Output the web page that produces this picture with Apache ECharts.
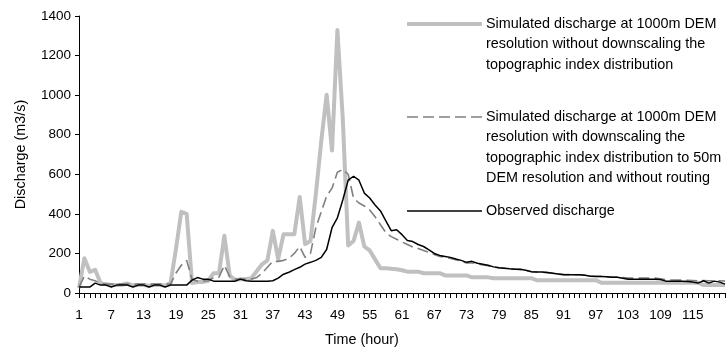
<!DOCTYPE html>
<html>
<head>
<meta charset="utf-8">
<script src="https://cdn.jsdelivr.net/npm/echarts@6/dist/echarts.min.js"></script>
<style>
html,body{margin:0;padding:0;background:#fff;}
#c{width:728px;height:352px;}
</style>
</head>
<body>
<div id="c"></div>
<script>
// Categories: hours 1..121
var hours = [];
for (var h = 1; h <= 121; h++) hours.push(String(h));

var seriesNames = [
  'Simulated discharge at 1000m DEM resolution without downscaling the topographic index distribution',
  'Simulated discharge at 1000m DEM resolution with downscaling the topographic index distribution to 50m DEM resolution and without routing',
  'Observed discharge'
];

// Simulated, 1000m DEM, no downscaling (thick light grey)
var simNoDownscale = [
  25,176,107,117,50,45,40,40,42,48,            // 1-10
  38,40,40,37,40,40,38,50,220,410,             // 11-20
  400,50,55,55,62,100,100,289,88,65,           // 21-30
  70,70,75,110,145,165,314,171,297,297,        // 31-40
  297,485,247,263,500,767,1002,720,1329,880,   // 41-50
  240,263,356,235,215,170,125,125,122,120,     // 51-60
  115,108,108,108,100,100,100,100,89,89,       // 61-70
  89,89,89,79,79,79,79,75,75,75,               // 71-80
  75,75,75,75,75,65,65,65,65,65,               // 81-90
  65,65,65,65,65,65,65,52,52,52,               // 91-100
  52,52,52,52,52,52,52,52,52,52,               // 101-110
  52,52,52,52,52,52,40,40,40,40,               // 111-120
  40                                           // 121
];

// Simulated, downscaled to 50m, no routing (dashed grey)
var simDownscale = [
  30,85,70,62,48,45,45,45,45,45,               // 1-10
  45,45,45,45,45,45,45,45,100,140,             // 11-20
  165,70,60,60,62,78,80,140,82,70,             // 21-30
  70,70,70,78,100,130,160,160,165,175,         // 31-40
  200,235,180,200,330,410,490,530,610,625,     // 41-50
  600,480,455,440,420,385,345,305,285,272,     // 51-60
  258,245,232,225,215,205,195,185,180,175,     // 61-70
  168,160,152,152,148,142,138,132,128,125,     // 71-80
  122,120,118,114,108,106,105,103,100,96,      // 81-90
  94,93,92,92,90,87,85,84,82,80,               // 91-100
  80,78,75,75,75,75,75,75,72,68,               // 101-110
  66,65,65,64,63,62,63,62,62,62,               // 111-120
  60                                           // 121
];

// Observed discharge (black)
var observed = [
  30,30,30,50,40,40,30,40,40,40,               // 1-10
  30,40,40,30,40,40,30,40,40,40,               // 11-20
  40,65,78,70,70,60,60,60,60,60,               // 21-30
  70,62,60,60,60,60,62,75,95,105,              // 31-40
  118,130,146,155,165,180,220,330,380,470,     // 41-50
  570,590,570,505,480,445,415,365,315,320,     // 51-60
  295,265,260,245,235,218,200,190,185,180,     // 61-70
  172,165,155,160,150,145,140,132,128,125,     // 71-80
  122,120,120,115,108,106,106,104,100,96,      // 81-90
  92,92,92,92,90,85,84,84,82,80,               // 91-100
  80,75,70,70,70,70,70,70,68,60,               // 101-110
  60,60,60,58,55,50,62,50,60,55,               // 111-120
  45                                           // 121
];

var yTicks = [0,200,400,600,800,1000,1200,1400];

var legendLines = [
  ['Simulated discharge at 1000m DEM', 'resolution without downscaling the', 'topographic index distribution'],
  ['Simulated discharge at 1000m DEM', 'resolution with downscaling the', 'topographic index distribution to 50m', 'DEM resolution and without routing'],
  ['Observed discharge']
];

var FONT = '"Liberation Sans", Arial, sans-serif';
var chart = echarts.init(document.getElementById('c'), null, {renderer: 'canvas'});

// Legend built as graphic (icon aligned with first text line)
var legendY = [24, 117, 211];
var legendStyles = [
  {stroke: '#c0c0c0', lineWidth: 4, lineDash: null},
  {stroke: '#808080', lineWidth: 1.6, lineDash: [11, 5]},
  {stroke: '#000000', lineWidth: 1.5, lineDash: null}
];
var graphics = [];
legendLines.forEach(function (lines, i) {
  graphics.push({
    type: 'line',
    shape: {x1: 407, y1: legendY[i], x2: 482, y2: legendY[i]},
    style: legendStyles[i],
    silent: true
  });
  lines.forEach(function (t, j) {
    graphics.push({
      type: 'text',
      x: 486, y: legendY[i] + j * 20.4,
      style: {text: t, fill: '#000', font: '14.4px ' + FONT, textVerticalAlign: 'middle', textAlign: 'left'},
      silent: true
    });
  });
});

var option = {
  animation: false,
  backgroundColor: '#ffffff',
  textStyle: {fontFamily: FONT},
  grid: {left: 79, right: 3, top: 16, bottom: 58, containLabel: false},
  xAxis: {
    type: 'category',
    data: hours,
    boundaryGap: false,
    name: 'Time (hour)',
    nameLocation: 'middle',
    nameGap: 40,
    nameTextStyle: {color: '#000', fontSize: 14.4, fontFamily: FONT, padding: [0, 80, 0, 0]},
    axisLine: {show: true, lineStyle: {color: '#000', width: 1}},
    axisTick: {show: true, interval: 0, length: 5, lineStyle: {color: '#000'}},
    axisLabel: {
      color: '#000', fontSize: 13.5, fontFamily: FONT, margin: 15,
      interval: function (idx) { return idx % 6 === 0 && idx < 120; }
    },
    splitLine: {show: false}
  },
  yAxis: {
    type: 'value',
    min: yTicks[0],
    max: yTicks[yTicks.length - 1],
    interval: 200,
    name: 'Discharge (m3/s)',
    nameLocation: 'middle',
    nameGap: 51,
    nameTextStyle: {color: '#000', fontSize: 14.4, fontFamily: FONT},
    axisLine: {show: true, lineStyle: {color: '#000', width: 1}},
    axisTick: {show: true, length: 4, lineStyle: {color: '#000'}},
    axisLabel: {color: '#000', fontSize: 13.5, fontFamily: FONT, margin: 8,
      formatter: function (v) { return String(v); }},
    splitLine: {show: false}
  },
  series: [
    {
      name: seriesNames[0], type: 'line', data: simNoDownscale,
      showSymbol: false, symbol: 'none',
      lineStyle: {color: '#c0c0c0', width: 4, join: 'round'},
      z: 2
    },
    {
      name: seriesNames[1], type: 'line', data: simDownscale,
      showSymbol: false, symbol: 'none',
      lineStyle: {color: '#808080', width: 1.6, type: [11, 5]},
      z: 3
    },
    {
      name: seriesNames[2], type: 'line', data: observed,
      showSymbol: false, symbol: 'none',
      lineStyle: {color: '#000000', width: 1.5},
      z: 4
    }
  ],
  graphic: graphics
};
chart.setOption(option);
</script>
</body>
</html>
